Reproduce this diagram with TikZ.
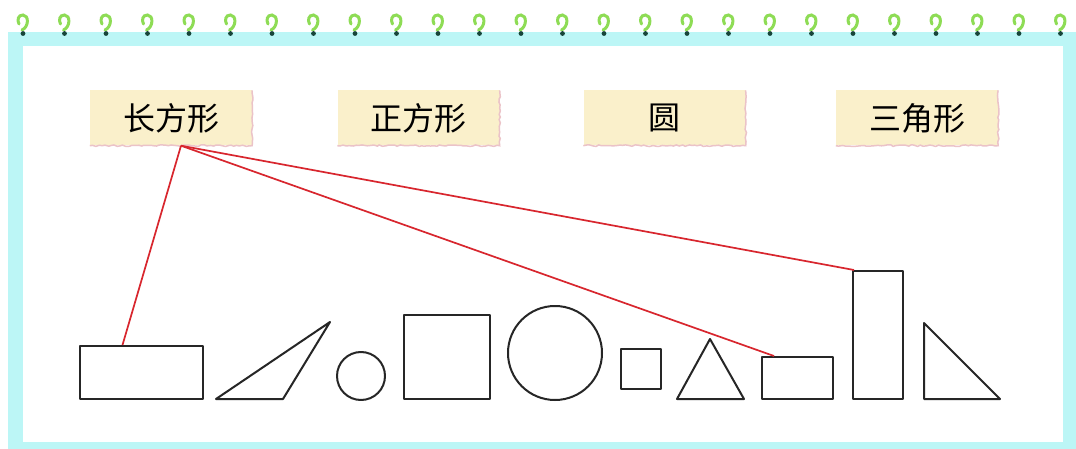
\documentclass[tikz,border=0pt]{standalone}
\usepackage{fontspec}
\newfontfamily\cjk{Noto Sans CJK SC}
\usetikzlibrary{decorations.pathmorphing}
\definecolor{framec}{HTML}{BCF6F6}
\definecolor{lblfill}{HTML}{FAF0CB}
\definecolor{lbledge}{HTML}{EBC3C8}
\definecolor{ringc}{HTML}{8EDC55}
\definecolor{ringdot}{HTML}{17453A}
\definecolor{linkc}{HTML}{D8262E}
\begin{document}
\begin{tikzpicture}[x=1pt,y=-1pt,
 lbl/.style={fill=lblfill, minimum width=162pt, minimum height=55pt, inner sep=0pt, font=\cjk\fontsize{32}{34}\selectfont},
 lbledgestyle/.style={draw=lbledge, line width=1.5pt, decorate, decoration={random steps, segment length=3pt, amplitude=0.8pt}},
 shp/.style={draw=black!85, line width=2pt, line join=round},
 rbox/.style={shp, rectangle, inner sep=0pt},
 cbox/.style={shp, circle, inner sep=0pt},
 linkline/.style={draw=linkc, line width=1.7pt}
]
\useasboundingbox (0,0) rectangle (1076,449);
\fill[white] (0,0) rectangle (1076,449);
\fill[framec] (8,32) rectangle (1076,449);
\fill[white] (23,46) rectangle (1063,442);
% spiral rings
\foreach \i in {0,...,25} {
  \pgfmathsetmacro\xx{23+41.5*\i}
  \draw[ringc, line width=3pt, line cap=round]
    (\xx-1,30) .. controls (\xx+6,27) and (\xx+6,15) .. (\xx,15)
    .. controls (\xx-5,15) and (\xx-6,20) .. (\xx-4,24);
  \fill[ringdot] (\xx,33.5) circle (2.4);
}
% labels
\node[lbl] (l1) at (171,118) {长方形};
\node[lbl] (l2) at (418.5,118) {正方形};
\node[lbl] (l3) at (664.5,118) {圆};
\node[lbl] (l4) at (917,118) {三角形};
\foreach \n in {l1,l2,l3,l4} {
  \draw[lbledgestyle] (\n.north east) -- (\n.south east) -- (\n.south west);
}
% shapes
\node[rbox, minimum width=123pt, minimum height=53pt] (r1) at (141.5,372.5) {};
\draw[shp] (216,399) -- (330,322) -- (283,399) -- cycle;
\node[cbox, minimum size=48pt] (c1) at (361,376) {};
\node[rbox, minimum width=86pt, minimum height=84pt] (s1) at (447,357) {};
\node[cbox, minimum size=94pt] (c2) at (555,353) {};
\node[rbox, minimum width=40pt, minimum height=40pt] (s2) at (641,369) {};
\draw[shp] (677,399) -- (710,339) -- (744,399) -- cycle;
\node[rbox, minimum width=71pt, minimum height=42pt] (r2) at (797.5,378) {};
\node[rbox, minimum width=50pt, minimum height=128pt] (r3) at (878,335) {};
\draw[shp] (924,323) -- (924,399) -- (1000,399) -- cycle;
% links
\coordinate (o) at ([xshift=10pt]l1.south);
\draw[linkline] (o) -- ([xshift=-19pt]r1.north);
\draw[linkline] (o) -- ([xshift=13pt]r2.north west);
\draw[linkline] (o) -- ([xshift=2pt]r3.north west);
\end{tikzpicture}
\end{document}
